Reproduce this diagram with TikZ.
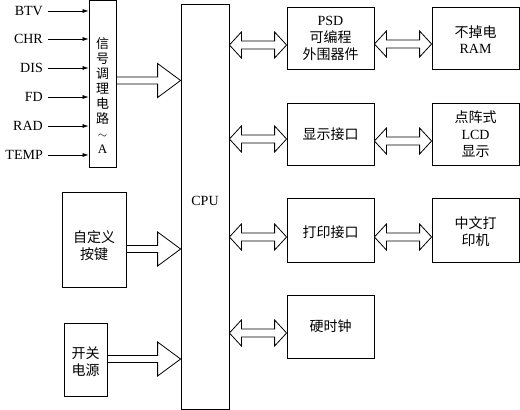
\documentclass[tikz,border=0pt]{standalone}
\usepackage{fontspec}
\setmainfont{Liberation Serif}
\newfontfamily\cjk{Noto Sans CJK SC}
\usetikzlibrary{arrows.meta,calc}
\newcommand\dblarr[2]{\draw[arr] let \p1=(#1), \p2=(#2) in
  (\x1,\y1) -- (\x1+12pt,\y1+13pt) -- (\x1+12pt,\y1+4pt) -- (\x2-12pt,\y1+4pt) -- (\x2-12pt,\y1+13pt)
  -- (\x2,\y1) -- (\x2-12pt,\y1-13pt) -- (\x2-12pt,\y1-4pt) -- (\x1+12pt,\y1-4pt) -- (\x1+12pt,\y1-13pt) -- cycle;}
\newcommand\bigarr[2]{\draw[arr] let \p1=(#1), \p2=(#2) in
  (\x1,\y1+3.5pt) -- (\x2-23pt,\y1+3.5pt) -- (\x2-23pt,\y1+17pt) -- (\x2,\y1)
  -- (\x2-23pt,\y1-17pt) -- (\x2-23pt,\y1-3.5pt) -- (\x1,\y1-3.5pt);}
\begin{document}
\begin{tikzpicture}[x=1pt,y=-1pt,
  box/.style={draw,line width=0.8pt,inner sep=0pt,align=center},
  arr/.style={line width=0.8pt,line join=miter},
  txt/.style={inner sep=0pt,align=center,font=\fontsize{14}{17}\selectfont},
  lbl/.style={inner sep=0pt,anchor=east,font=\fontsize{14}{17}\selectfont},
  inarr/.style={line width=0.6pt,-{Latex[length=6pt,width=4pt]}}]
\useasboundingbox (0,0) rectangle (520,410);
% boxes
\node[box,minimum width=27pt,minimum height=166.5pt] (sig) at (102.5,83.75) {};
\node[box,minimum width=48pt,minimum height=405pt] (cpu) at (205,206.5) {};
\node[box,minimum width=87pt,minimum height=62pt] (psd) at (330.5,38) {};
\node[box,minimum width=87pt,minimum height=62pt] (disp) at (330.5,134) {};
\node[box,minimum width=87pt,minimum height=64pt] (prt) at (330.5,230) {};
\node[box,minimum width=87pt,minimum height=63pt] (clk) at (330.5,326.5) {};
\node[box,minimum width=87pt,minimum height=62pt] (ram) at (475.5,38) {};
\node[box,minimum width=87pt,minimum height=62pt] (lcd) at (475.5,134) {};
\node[box,minimum width=87pt,minimum height=64pt] (prn) at (475.5,230) {};
\node[box,minimum width=64pt,minimum height=95pt] (key) at (94,239.5) {};
\node[box,minimum width=43pt,minimum height=73pt] (pwr) at (85.5,359.5) {};
% texts
\node[txt,font=\fontsize{13}{15}\selectfont] (sigtxt) at (102.5,96) {\cjk 信\\\cjk 号\\\cjk 调\\\cjk 理\\\cjk 电\\\cjk 路\\$\sim$\\A};
\node[txt] (cputxt) at (205,201) {CPU};
\node[txt] (psdtxt) at (psd) {PSD\\\cjk 可编程\\\cjk 外围器件};
\node[txt] (disptxt) at (disp) {\cjk 显示接口};
\node[txt] (prttxt) at ($(prt)+(0,2)$) {\cjk 打印接口};
\node[txt] (clktxt) at (clk) {\cjk 硬时钟};
\node[txt,font=\fontsize{14}{16}\selectfont] (ramtxt) at ($(ram)+(0,1.5)$) {\cjk 不掉电\\RAM};
\node[txt] (lcdtxt) at (lcd) {\cjk 点阵式\\LCD\\\cjk 显示};
\node[txt] (prntxt) at ($(prn)+(0,2)$) {\cjk 中文打\\\cjk 印机};
\node[txt] (keytxt) at ($(key)+(0,6)$) {\cjk 自定义\\\cjk 按键};
\node[txt] (pwrtxt) at ($(pwr)+(0,2.5)$) {\cjk 开关\\\cjk 电源};
% inputs
\foreach \n/\t/\y in {i1/BTV/11,i2/CHR/39,i3/DIS/68,i4/FD/97,i5/RAD/126,i6/TEMP/155}{
  \node[lbl] (\n) at (43,\y) {\t};
  \coordinate (\n s) at (48,\y);
  \draw[inarr] (\n s) -- (sig.west |- \n s);
}
% big input arrows
\coordinate (a1) at (sig.east |- 0,80.5);
\coordinate (a2) at (key.east |- 0,249);
\coordinate (a3) at (pwr.east |- 0,359);
\bigarr{a1}{cpu.west |- a1}
\bigarr{a2}{cpu.west |- a2}
\bigarr{a3}{cpu.west |- a3}
% double arrows
\coordinate (d1) at (cpu.east |- 0,45);
\coordinate (d2) at (cpu.east |- 0,139);
\coordinate (d3) at (cpu.east |- 0,237);
\coordinate (d4) at (cpu.east |- 0,333);
\dblarr{d1}{psd.west |- d1}
\dblarr{d2}{disp.west |- d2}
\dblarr{d3}{prt.west |- d3}
\dblarr{d4}{clk.west |- d4}
\coordinate (e1) at (psd.east |- 0,44);
\coordinate (e2) at (disp.east |- 0,141);
\coordinate (e3) at (prt.east |- 0,237);
\dblarr{e1}{ram.west |- e1}
\dblarr{e2}{lcd.west |- e2}
\dblarr{e3}{prn.west |- e3}
\end{tikzpicture}
\end{document}
